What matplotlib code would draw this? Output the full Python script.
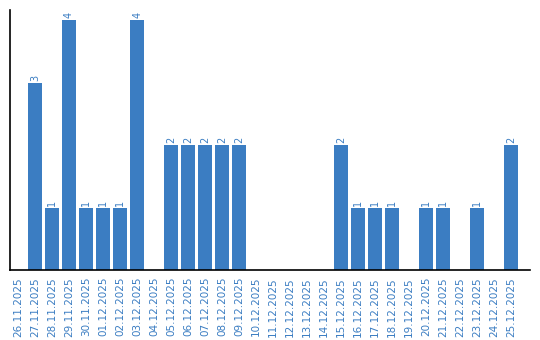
import matplotlib
matplotlib.use("Agg")
import matplotlib.pyplot as plt

# daily counts, 26.11.2025 - 25.12.2025
dates = ["26.11.2025", "27.11.2025", "28.11.2025", "29.11.2025", "30.11.2025",
         "01.12.2025", "02.12.2025", "03.12.2025", "04.12.2025", "05.12.2025",
         "06.12.2025", "07.12.2025", "08.12.2025", "09.12.2025", "10.12.2025",
         "11.12.2025", "12.12.2025", "13.12.2025", "14.12.2025", "15.12.2025",
         "16.12.2025", "17.12.2025", "18.12.2025", "19.12.2025", "20.12.2025",
         "21.12.2025", "22.12.2025", "23.12.2025", "24.12.2025", "25.12.2025"]
counts = [0, 3, 1, 4, 1, 1, 1, 4, 0, 2,
          2, 2, 2, 2, 0, 0, 0, 0, 0, 2,
          1, 1, 1, 0, 1, 1, 0, 1, 0, 2]

blue = "#3b7dc2"

fig = plt.figure(figsize=(5.4, 3.4), dpi=100)
ax = fig.add_axes([10 / 540, 70 / 340, 520 / 540, 260 / 340])

x = list(range(len(dates)))
bars = ax.bar(x, counts, width=0.82, color=blue)

# value labels above the bars (only for non-zero days)
for xi, v in zip(x, counts):
    if v > 0:
        ax.text(xi, v + 0.03, str(v), rotation=90, ha="center", va="bottom",
                fontsize=7, color=blue)

ax.set_xlim(-0.47, 30.1)
ax.set_ylim(0, 4.16)
ax.set_xticks(x)
ax.set_xticklabels(dates, rotation=90, fontsize=7.5, color=blue)
ax.tick_params(axis="x", length=0, pad=5)
ax.set_yticks([])

ax.spines["top"].set_visible(False)
ax.spines["right"].set_visible(False)
ax.spines["left"].set_linewidth(1.2)
ax.spines["bottom"].set_linewidth(1.2)

fig.savefig("out.png", dpi=100)
